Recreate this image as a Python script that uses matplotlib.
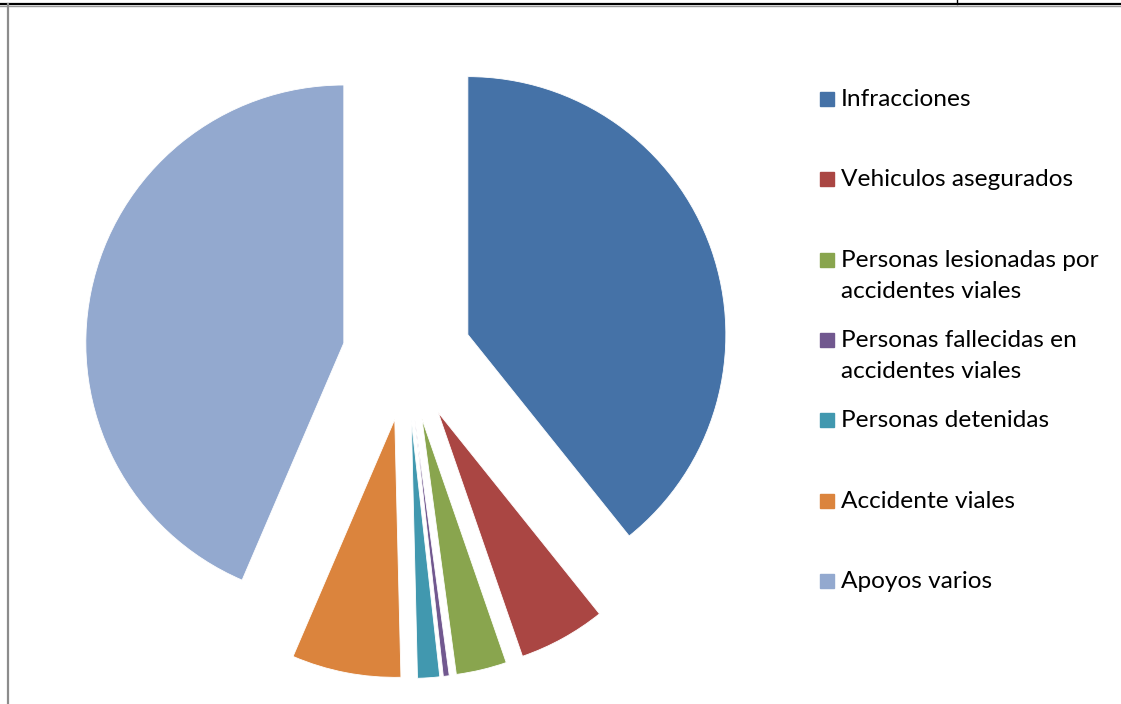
import matplotlib.pyplot as plt
from matplotlib.lines import Line2D
from matplotlib.patches import Rectangle

labels = ['Infracciones', 'Vehiculos asegurados', 'Personas lesionadas por\naccidentes viales',
          'Personas fallecidas en\naccidentes viales', 'Personas detenidas',
          'Accidente viales', 'Apoyos varios']
values = [39.25, 5.45, 3.17, 0.37, 1.38, 6.83, 43.55]
colors = ['#4572A7', '#AA4643', '#89A54E', '#71588F', '#4198AF', '#DB843D', '#93A9CF']

W, H = 1121, 704
fig = plt.figure(figsize=(W / 100, H / 100), dpi=100)
ax = fig.add_axes([0, 0, 1, 1])

# pie centre and radius in pixels
cx, cy, r = 407, 356, 258
ax.pie(values, colors=colors, startangle=90, counterclock=False,
       explode=[0.25] * len(values),
       wedgeprops=dict(edgecolor='white', linewidth=0.6))
ax.set_aspect('auto')
ax.set_xlim(-cx / r, (W - cx) / r)
ax.set_ylim((cy - H) / r, cy / r)
ax.axis('off')

# legend drawn by hand (square aligned with first line)
for i, (lab, col) in enumerate(zip(labels, colors)):
    yc = 99 + i * 80.3
    fig.patches.append(Rectangle((820 / W, 1 - (yc + 7) / H), 14 / W, 14 / H,
                                 transform=fig.transFigure, color=col))
    fig.text(841 / W, 1 - (yc - 10) / H, lab, fontsize=17.6, family='Lato',
             va='top', ha='left', color='black', linespacing=1.6)

# page/table border lines
fig.add_artist(Line2D([0, 1], [1 - 3.5 / H, 1 - 3.5 / H], transform=fig.transFigure,
                      color='black', lw=1.6))
fig.add_artist(Line2D([0, 1], [1 - 5.5 / H, 1 - 5.5 / H], transform=fig.transFigure,
                      color='#999999', lw=1.0))
fig.add_artist(Line2D([8 / W, 8 / W], [1 - 4 / H, 0], transform=fig.transFigure,
                      color='#8c8c8c', lw=1.6))
fig.add_artist(Line2D([956.5 / W, 956.5 / W], [1, 1 - 4 / H], transform=fig.transFigure,
                      color='black', lw=1.0))

fig.savefig('out.png', dpi=100)
